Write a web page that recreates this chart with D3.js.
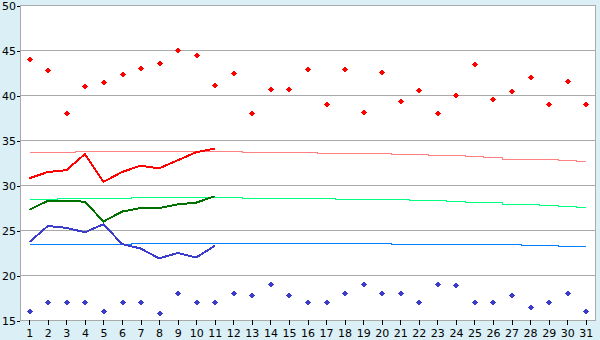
<!DOCTYPE html>
<html>
<head>
<meta charset="utf-8">
<script src="https://cdn.jsdelivr.net/npm/d3@7"></script>
<style>
  html, body { margin: 0; padding: 0; background: #daeff6; }
  svg { display: block; }
  text { font-family: "DejaVu Sans", Verdana, sans-serif; font-size: 11px; fill: #000; }
</style>
</head>
<body>
<svg id="chart" width="600" height="340"></svg>
<script>
const days = d3.range(1, 32);
const yTicks = [15, 20, 25, 30, 35, 40, 45, 50];

// daily maximum (red points) and minimum (blue points)
const maxPoints = [44, 42.8, 38, 41, 41.4, 42.3, 43, 43.6, 45, 44.5, 41.1, 42.4, 38, 40.7, 40.7, 42.9, 39, 42.9, 38.1, 42.6, 39.3, 40.6, 38, 40, 43.5, 39.6, 40.4, 42, 39, 41.6, 39];
const minPoints = [16, 17, 17, 17, 16, 17, 17, 15.8, 18, 17, 17, 18, 17.8, 19, 17.8, 17, 17, 18, 19, 18, 18, 17, 19, 18.9, 17, 17, 17.8, 16.5, 17, 18, 16];

// measured lines (days 1-11)
const maxLine = [30.8, 31.5, 31.7, 33.5, 30.4, 31.5, 32.2, 31.9, 32.8, 33.7, 34.1];
const avgLine = [27.3, 28.3, 28.3, 28.2, 26.0, 27.1, 27.5, 27.5, 27.9, 28.1, 28.8];
const minLine = [23.7, 25.5, 25.3, 24.8, 25.7, 23.5, 23.0, 21.9, 22.5, 22.0, 23.3];

// normals (step lines)
const maxNormal = [33.72, 33.72, 33.72, 33.83, 33.83, 33.83, 33.83, 33.83, 33.83, 33.83, 33.83, 33.83, 33.72, 33.72, 33.72, 33.72, 33.61, 33.61, 33.5, 33.5, 33.39, 33.39, 33.28, 33.28, 33.17, 33.06, 32.94, 32.94, 32.94, 32.83, 32.72];
const avgNormal = [28.5, 28.5, 28.61, 28.61, 28.61, 28.61, 28.72, 28.72, 28.72, 28.72, 28.72, 28.72, 28.61, 28.61, 28.61, 28.61, 28.61, 28.5, 28.5, 28.39, 28.39, 28.28, 28.28, 28.17, 28.06, 28.06, 27.94, 27.94, 27.83, 27.72, 27.61];
const minNormal = [23.39, 23.39, 23.39, 23.5, 23.5, 23.5, 23.61, 23.61, 23.61, 23.61, 23.61, 23.61, 23.61, 23.61, 23.61, 23.61, 23.61, 23.61, 23.61, 23.61, 23.5, 23.5, 23.5, 23.5, 23.39, 23.39, 23.39, 23.28, 23.28, 23.17, 23.17];

const svg = d3.select("#chart");
const mLeft = 20, mRight = 595, mTop = 5, mBottom = 320;

const x = d3.scalePoint().domain(days).range([mLeft, mRight]).padding(0.5);
const y = d3.scaleLinear().domain([15, 50]).range([mBottom + 0.5, mTop + 0.5]);
const px = d => Math.floor(x(d)) + 0.5;

// plot background + frame
svg.append("rect")
  .attr("x", mLeft + 0.5).attr("y", mTop + 0.5)
  .attr("width", mRight - mLeft).attr("height", mBottom - mTop)
  .attr("fill", "#fff").attr("stroke", "#aaaaaa").attr("shape-rendering", "crispEdges");

// grid
svg.append("g").selectAll("line")
  .data(yTicks.filter(t => t > 15 && t < 50))
  .join("line")
  .attr("x1", mLeft).attr("x2", mRight)
  .attr("y1", d => Math.floor(y(d)) + 0.5).attr("y2", d => Math.floor(y(d)) + 0.5)
  .attr("stroke", "#aaaaaa").attr("shape-rendering", "crispEdges");

// axes
const yAxis = svg.append("g").attr("transform", `translate(${mLeft},0)`)
  .call(d3.axisLeft(y).tickValues(yTicks).tickSize(3).tickPadding(1).tickFormat(d3.format("d")));
yAxis.select(".domain").remove();
yAxis.selectAll("line").attr("stroke", "#000").attr("shape-rendering", "crispEdges");
yAxis.selectAll("text").attr("font-size", 11).attr("font-family", "DejaVu Sans");

const xAxis = svg.append("g").attr("transform", `translate(0,${mBottom})`)
  .call(d3.axisBottom(x).tickSize(5).tickPadding(4));
xAxis.select(".domain").remove();
xAxis.selectAll("line").attr("stroke", "#000").attr("shape-rendering", "crispEdges");
xAxis.selectAll("text").attr("font-size", 11).attr("font-family", "DejaVu Sans");

// step normals
const stepLine = d3.line().x((d, i) => px(days[i])).y(d => Math.floor(y(d)) + 0.5).curve(d3.curveStep);
[[maxNormal, "#ff8080"], [avgNormal, "#00ff80"], [minNormal, "#0080ff"]].forEach(([data, c]) => {
  svg.append("path").datum(data).attr("d", stepLine)
    .attr("fill", "none").attr("stroke", c).attr("stroke-width", 1).attr("shape-rendering", "crispEdges");
});

// measured lines
const valLine = d3.line().x((d, i) => x(days[i])).y(d => y(d));
[[maxLine, "#ff0000"], [avgLine, "#007000"], [minLine, "#3c3ccc"]].forEach(([data, c]) => {
  svg.append("path").datum(data).attr("d", valLine)
    .attr("fill", "none").attr("stroke", c).attr("stroke-width", 2)
    .attr("stroke-linejoin", "round").attr("shape-rendering", "crispEdges");
});

// diamond markers
const diamond = "M0,-3L3,0L0,3L-3,0Z";
[[maxPoints, "#ff0000"], [minPoints, "#3c3ccc"]].forEach(([data, c]) => {
  svg.append("g").selectAll("path").data(data).join("path")
    .attr("d", diamond)
    .attr("transform", (d, i) => `translate(${px(days[i])},${Math.floor(y(d)) + 0.5})`)
    .attr("fill", c).attr("shape-rendering", "crispEdges");
});
</script>
</body>
</html>
